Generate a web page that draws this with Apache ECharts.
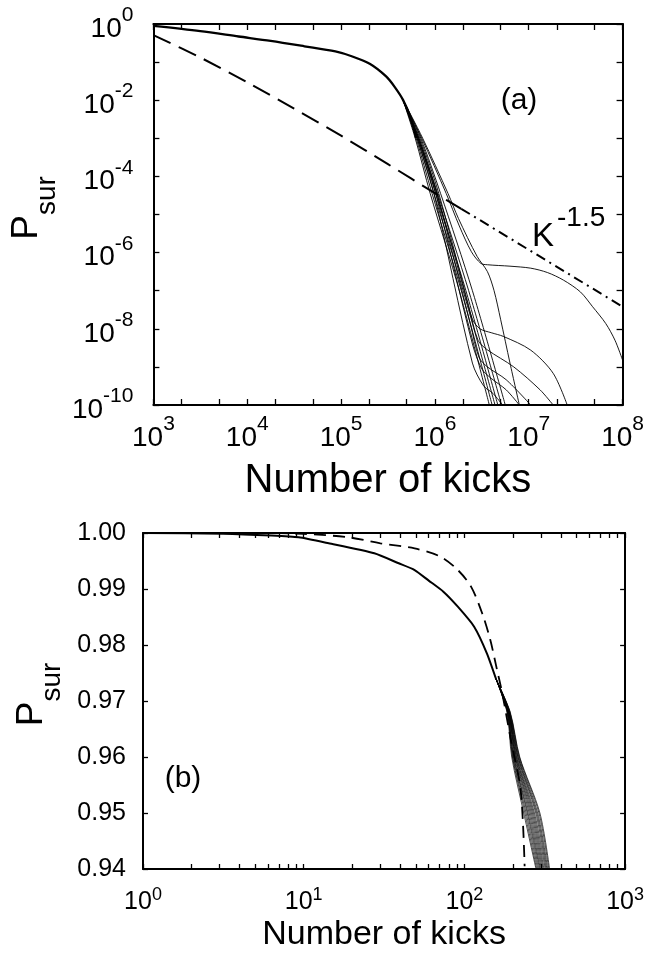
<!DOCTYPE html>
<html><head><meta charset="utf-8">
<script src="https://cdn.jsdelivr.net/npm/echarts@6/dist/echarts.min.js"></script>
<style>html,body{margin:0;padding:0;background:#fff}#c{width:647px;height:956px}</style>
</head><body><div id="c"></div>
<script>
// ---------------- Panel (a) ----------------
const aXTicks = [1e3, 1e4, 1e5, 1e6, 1e7, 1e8];
const aYTicks = [1e-10, 1e-8, 1e-6, 1e-4, 1e-2, 1];
const aYMinor = [1e-10,1e-9,1e-8,1e-7,1e-6,1e-5,1e-4,1e-3,1e-2,1e-1,1];
// thick solid curve (common part)
const aMain = [[1e3,0.89],[3.16e3,0.65],[8.1e3,0.47],[1.78e4,0.36],[4.07e4,0.26],[8.7e4,0.19],[1.32e5,0.14],[2.04e5,0.089],[3.02e5,0.042],[3.72e5,0.0224],[4.57e5,0.0102],[5.5e5,3.5e-3],[6.31e5,1e-3]];
// dashed curve
const aDashed = [[1e3,0.51],[3.16e3,0.132],[1e4,0.0295],[3.16e4,6.0e-3],[1e5,1.17e-3],[3.16e5,2.09e-4],[1e6,3.63e-5],[1.91e6,1.41e-5]];
// K^-1.5 reference (dash-dot)
const aPower = [[1.91e6,1.41e-5],[1e8,3.8e-8]];
// thin curves of the bundle
const aS1 = [[4.57e5,1.02e-2],[6.17e5,1e-3],[8.91e5,3.55e-5],[1.82e6,1e-7],[3.80e6,1e-10]];
const aS2 = [[4.57e5,1.02e-2],[6.31e5,1e-3],[9.33e5,3.55e-5],[1.91e6,1e-7],[4.07e6,1e-10]];
const aS3 = [[4.57e5,1.02e-2],[6.46e5,1e-3],[9.77e5,3.55e-5],[2.00e6,1e-7],[4.37e6,1e-10]];
const aS4 = [[4.57e5,1.02e-2],[6.61e5,1e-3],[1.02e6,3.55e-5],[2.14e6,1e-7],[4.68e6,1e-10]];
const aS5 = [[4.57e5,1.02e-2],[6.76e5,1e-3],[1.07e6,3.55e-5],[2.29e6,1e-7],[5.13e6,1e-10]];
const aS6 = [[4.57e5,1.02e-2],[7.08e5,1e-3],[1.15e6,3.55e-5],[2.51e6,1e-7],[5.62e6,1e-10]];
const aC1 = [[4.57e5,1.02e-2],[6.61e5,1e-3],[1.05e6,3.55e-5],[2.0e6,1.26e-7],[2.51e6,1.78e-8],[3.02e6,1e-8],[3.98e6,7.9e-9],[5.37e6,6.3e-9],[1.05e7,2.75e-9],[1.82e7,6.8e-10],[2.57e7,1e-10]];
const aC2 = [[4.57e5,1.02e-2],[6.92e5,1e-3],[1.10e6,3.55e-5],[2.29e6,4.0e-8],[2.88e6,5.0e-9],[3.63e6,2.8e-9],[6.92e6,1e-9],[1.32e7,2.5e-10],[1.82e7,1e-10]];
const aC3 = [[4.57e5,1.02e-2],[6.76e5,1e-3],[1.05e6,3.55e-5],[2.40e6,1.26e-8],[2.95e6,1.78e-9],[3.63e6,1e-9],[5.75e6,4.6e-10],[1.05e7,1e-10]];
const aC4 = [[4.57e5,1.02e-2],[6.61e5,1e-3],[1.02e6,3.55e-5],[2.51e6,4.0e-9],[3.16e6,8.9e-10],[3.98e6,5.0e-10],[5.75e6,2.5e-10],[7.94e6,1e-10]];
const aC5 = [[4.57e5,1.02e-2],[6.46e5,1e-3],[9.77e5,3.55e-5],[2.51e6,1.26e-9],[3.31e6,3.16e-10],[4.17e6,2.0e-10],[5.25e6,1e-10]];
const aA = [[4.57e5,1.02e-2],[7.24e5,1e-3],[1.32e6,3.55e-5],[1.82e6,5.0e-6],[2.45e6,1.05e-6],[3.09e6,5.2e-7],[3.63e6,4.8e-7],[6.31e6,4.4e-7],[1.05e7,3.9e-7],[1.58e7,3.0e-7],[2.34e7,1.9e-7],[3.55e7,9.3e-8],[4.79e7,3.8e-8],[6.61e7,1.38e-8],[8.3e7,5.0e-9],[1e8,1.51e-9]];
const aB = [[4.57e5,1.02e-2],[7.41e5,1e-3],[1.38e6,3.55e-5],[1.78e6,7.9e-6],[2.82e6,7.9e-7],[3.63e6,3.16e-7],[4.27e6,1e-7],[5.01e6,1.78e-8],[6.31e6,1.26e-9],[7.94e6,1e-10]];
const aThin = [aS1, aS2, aS3, aS4, aS5, aS6, aC1, aC2, aC3, aC4, aC5, aA, aB];

// ---------------- Panel (b) ----------------
const bXTicks = [1, 10, 100, 1000];
const bYTicks = [0.94, 0.95, 0.96, 0.97, 0.98, 0.99, 1.00];
const bMain = [[1,1.0],[3.16,0.99988],[6.3,0.99955],[9.3,0.99923],[14.3,0.99816],[27.5,0.99637],[39,0.99459],[49,0.99339],[60,0.9915],[74,0.98952],[91,0.98684],[115,0.98327],[138,0.97852],[158,0.9738]];
const bDashed = [[1,1.0],[5,0.99999],[10,0.99985],[19,0.99923],[30,0.99816],[49,0.99726],[71,0.99577],[91,0.99339],[110,0.99042],[129,0.98566],[145,0.98089],[158,0.97613],[172,0.97137],[195,0.9629],[224,0.9541],[237,0.9405]];
const bFanP = [0.9738, 0.968, 0.96, 0.95, 0.94];
const bFanK = [
  [158,184,197,234,279],[158,185,199,238,282],[158,185,200,242,286],[158,186,202,246,290],
  [158,186,203,249,294],[158,187,205,253,297],[158,188,207,257,301],[158,188,208,261,305],
  [158,189,210,265,309],[158,189,211,269,313],[158,190,213,273,318],[158,190,215,278,322],
  [158,191,216,282,326],[158,192,218,286,330],[158,192,220,291,335],[158,193,221,295,339]
];

// ---------------- build ----------------
const L = Math.log10;
const FONT = '"Liberation Sans", Arial, Helvetica, sans-serif';
const logXY = arr => arr.map(p => [L(p[0]), L(p[1])]);
const logX = arr => arr.map(p => [L(p[0]), p[1]]);

const aXMajor = aXTicks.map(L);
const aXTickPos = aXTicks.flatMap((v, i) => i < aXTicks.length - 1 ? [v, 2 * v, 5 * v] : [v]).map(L);
const aYMajor = aYTicks.map(L);
const aYTickPos = aYMinor.map(L);
const bXMajor = bXTicks.map(L);
const bXTickPos = bXTicks.flatMap((v, i) => i < bXTicks.length - 1 ? [1,2,3,4,5,6,7,8,9].map(m => m * v) : [v]).map(L);

const expFmt = v => '{b|10}{s|' + Math.round(v) + '}';
const richA = {
  b: {fontSize: 28, lineHeight: 38, verticalAlign: 'bottom', fontFamily: FONT, color: '#000'},
  s: {fontSize: 21, verticalAlign: 'top', fontFamily: FONT, color: '#000'}
};
const richB = {
  b: {fontSize: 25, lineHeight: 29, verticalAlign: 'bottom', fontFamily: FONT, color: '#000'},
  s: {fontSize: 18, verticalAlign: 'top', fontFamily: FONT, color: '#000'}
};
const richP = {
  p: {fontSize: 37, lineHeight: 37, verticalAlign: 'top', fontFamily: FONT, color: '#000'},
  s: {fontSize: 28, lineHeight: 28, verticalAlign: 'top', padding: [25, 0, 0, 0], fontFamily: FONT, color: '#000'}
};

const axLine = {show: true, onZero: false, lineStyle: {color: '#000', width: 2}};
function tick(len, vals) { return {show: true, inside: true, length: len, lineStyle: {color: '#000', width: 1.3}, customValues: vals}; }

const xAxis = [
  {type: 'value', gridIndex: 0, position: 'bottom', min: 3, max: 8, interval: 1,
   axisLine: axLine, axisTick: tick(6, aXTickPos), splitLine: {show: false},
   axisLabel: {show: true, margin: 9, customValues: aXMajor, formatter: expFmt, rich: richA, fontFamily: FONT, color: '#000'},
   name: 'Number of kicks', nameLocation: 'middle', nameGap: 56,
   nameTextStyle: {fontFamily: FONT, fontSize: 40, color: '#000'}},
  {type: 'value', gridIndex: 0, position: 'top', min: 3, max: 8, interval: 1,
   axisLine: axLine, axisTick: tick(6, aXTickPos), splitLine: {show: false}, axisLabel: {show: false}},
  {type: 'value', gridIndex: 1, position: 'bottom', min: 0, max: 3, interval: 1,
   axisLine: axLine, axisTick: tick(5, bXTickPos), splitLine: {show: false},
   axisLabel: {show: true, margin: 17, customValues: bXMajor, formatter: expFmt, rich: richB, fontFamily: FONT, color: '#000'},
   name: 'Number of kicks', nameLocation: 'middle', nameGap: 49,
   nameTextStyle: {fontFamily: FONT, fontSize: 34, color: '#000'}},
  {type: 'value', gridIndex: 1, position: 'top', min: 0, max: 3, interval: 1,
   axisLine: axLine, axisTick: tick(5, bXTickPos), splitLine: {show: false}, axisLabel: {show: false}}
];
const yAxis = [
  {type: 'value', gridIndex: 0, position: 'left', min: -10, max: 0, interval: 1,
   axisLine: axLine, axisTick: tick(6, aYTickPos), splitLine: {show: false},
   axisLabel: {show: true, margin: 20, customValues: aYMajor,
     formatter: v => (Math.round(v) % 2 === 0 ? expFmt(v) : ''), rich: richA, fontFamily: FONT, color: '#000'},
   name: '{p|P}{s|sur}', nameLocation: 'middle', nameRotate: 90, nameGap: 86,
   nameTextStyle: {rich: richP, padding: [0, 0, 0, 13]}},
  {type: 'value', gridIndex: 0, position: 'right', min: -10, max: 0, interval: 1,
   axisLine: axLine, axisTick: tick(6, aYTickPos), splitLine: {show: false}, axisLabel: {show: false}},
  {type: 'value', gridIndex: 1, position: 'left', min: 0.94, max: 1.0, interval: 0.01,
   axisLine: axLine, axisTick: tick(5, bYTicks), splitLine: {show: false},
   axisLabel: {show: true, margin: 17, customValues: bYTicks, formatter: v => v.toFixed(2),
     fontFamily: FONT, fontSize: 25, color: '#000'},
   name: '{p|P}{s|sur}', nameLocation: 'middle', nameRotate: 90, nameGap: 83,
   nameTextStyle: {rich: richP, padding: [0, 0, 0, 13]}},
  {type: 'value', gridIndex: 1, position: 'right', min: 0.94, max: 1.0, interval: 0.01,
   axisLine: axLine, axisTick: tick(5, bYTicks), splitLine: {show: false}, axisLabel: {show: false}}
];

function line(data, xi, yi, width, type, smooth) {
  return {type: 'line', xAxisIndex: xi, yAxisIndex: yi, data: data, showSymbol: false, symbol: 'none',
    smooth: smooth, silent: true, clip: true, lineStyle: {color: '#000', width: width, type: type || 'solid'}};
}

const series = [];
series.push(line(logXY(aDashed), 0, 0, 2, [19, 9], 0.3));
series.push(line(logXY(aPower), 0, 0, 2, [10, 5, 2, 5], false));
aThin.forEach(c => series.push(line(logXY(c), 0, 0, 0.9, 'solid', 0.3)));
series.push(line(logXY(aMain), 0, 0, 2.3, 'solid', 0.3));

series.push(line(logX(bDashed), 2, 2, 1.8, [12, 7], 0.3));
series.push(line(logX(bMain), 2, 2, 2, 'solid', 0.2));
bFanK.forEach(ks => series.push(line(ks.map((k, j) => [L(k), bFanP[j]]), 2, 2, 0.7, 'solid', 0.3)));

const txt = (x, y, s, size, align) => ({type: 'text', x: x, y: y, silent: true,
  style: {text: s, fontSize: size, fontFamily: FONT, fill: '#000', align: align || 'center', verticalAlign: 'middle'}});

const option = {
  animation: false,
  backgroundColor: '#fff',
  grid: [
    {left: 146, top: 24, width: 479, height: 381, containLabel: false},
    {left: 143, top: 533, width: 486, height: 336, containLabel: false}
  ],
  xAxis: xAxis,
  yAxis: yAxis,
  series: series,
  graphic: [
    txt(519, 101, '(a)', 30),
    txt(183, 779, '(b)', 30),
    txt(532, 237, 'K', 33, 'left'),
    txt(557, 218, '-1.5', 28, 'left')
  ]
};
const chart = echarts.init(document.getElementById('c'), null, {renderer: 'canvas'});
chart.setOption(option);
</script>
</body></html>
